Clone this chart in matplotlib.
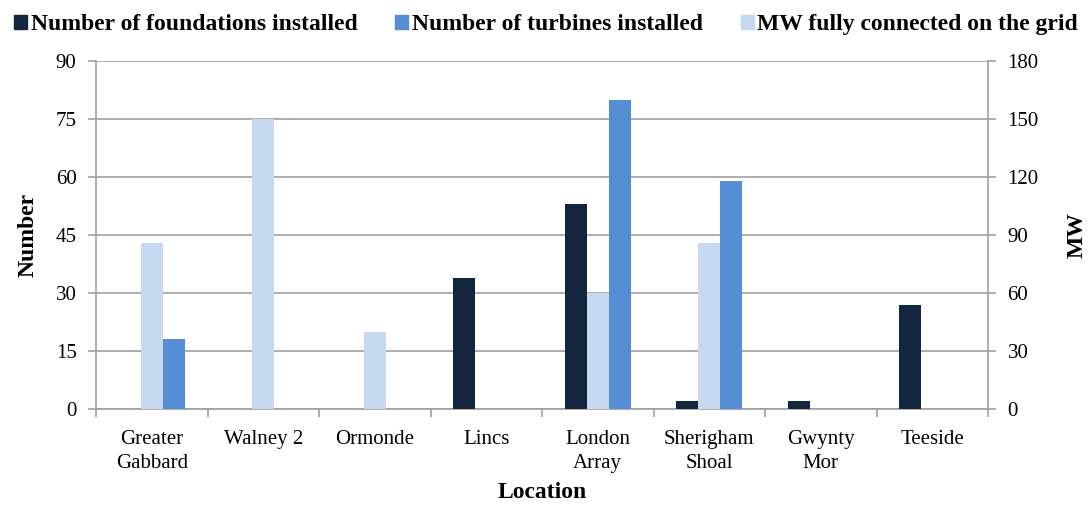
import matplotlib
matplotlib.use("Agg")
import matplotlib.pyplot as plt
import numpy as np
from matplotlib.patches import Patch

locations = ["Greater\nGabbard", "Walney 2", "Ormonde", "Lincs",
             "London\nArray", "Sherigham\nShoal", "Gwynty\nMor", "Teeside"]
foundations = [0, 0, 0, 34, 53, 2, 2, 27]
turbines = [18, 0, 0, 0, 80, 59, 0, 0]
mw_connected = [86, 150, 40, 0, 60, 86, 0, 0]

left_ticks = [0, 15, 30, 45, 60, 75, 90]
right_ticks = [0, 30, 60, 90, 120, 150, 180]

c_found = "#13263f"
c_turb = "#558ed5"
c_mw = "#c6d9f1"
grid_c = "#a0a0a0"

plt.rcParams["font.family"] = ["Liberation Serif", "DejaVu Serif"]

fig = plt.figure(figsize=(10.92, 5.07), dpi=100)
ax = fig.add_axes([96 / 1092, 1 - 409 / 507, 892 / 1092, 348 / 507])
ax2 = ax.twinx()

x = np.arange(len(locations))
w = 0.197
ax.bar(x - w, foundations, w, color=c_found, zorder=3)
ax.bar(x + w, turbines, w, color=c_turb, zorder=3)
ax2.bar(x, mw_connected, w, color=c_mw, zorder=3)

ax.set_xlim(-0.5, len(locations) - 0.5)
ax.set_ylim(0, 90)
ax2.set_ylim(0, 180)
ax.set_yticks(left_ticks)
ax2.set_yticks(right_ticks)
ax.yaxis.grid(True, color=grid_c, linewidth=1.2, zorder=0)
ax.set_axisbelow(True)

ax.set_xticks(x)
ax.set_xticklabels(locations, fontsize=15, linespacing=1.4)
ax.set_xticks(np.arange(len(locations) + 1) - 0.5, minor=True)
ax.tick_params(axis="x", which="major", length=0, pad=15)
ax.tick_params(axis="x", which="minor", length=6, color=grid_c, width=1.2)
ax.tick_params(axis="y", length=6, color=grid_c, width=1.2, labelsize=15, pad=8)
ax2.tick_params(axis="y", length=6, color=grid_c, width=1.2, labelsize=15, pad=8)

for a in (ax, ax2):
    for s in a.spines.values():
        s.set_visible(False)
for name, a in (("left", ax), ("bottom", ax), ("right", ax2)):
    a.spines[name].set_visible(True)
    a.spines[name].set_color(grid_c)
    a.spines[name].set_linewidth(1.2)

ax.set_ylabel("Number", fontsize=17, fontweight="bold", labelpad=12)
ax2.set_ylabel("MW", fontsize=17, fontweight="bold", labelpad=20)
ax.set_xlabel("Location", fontsize=17, fontweight="bold", labelpad=6)

handles = [Patch(color=c_found), Patch(color=c_turb), Patch(color=c_mw)]
labels = ["Number of foundations installed", "Number of turbines installed",
          "MW fully connected on the grid"]
fig.legend(handles, labels, loc="upper left", bbox_to_anchor=(0.0, 1.0),
           ncol=3, frameon=False, prop={"size": 17, "weight": "bold"},
           handlelength=0.55, handleheight=0.55, handletextpad=0.15,
           columnspacing=1.6, borderaxespad=0.2)

fig.savefig("out.png", dpi=100)
